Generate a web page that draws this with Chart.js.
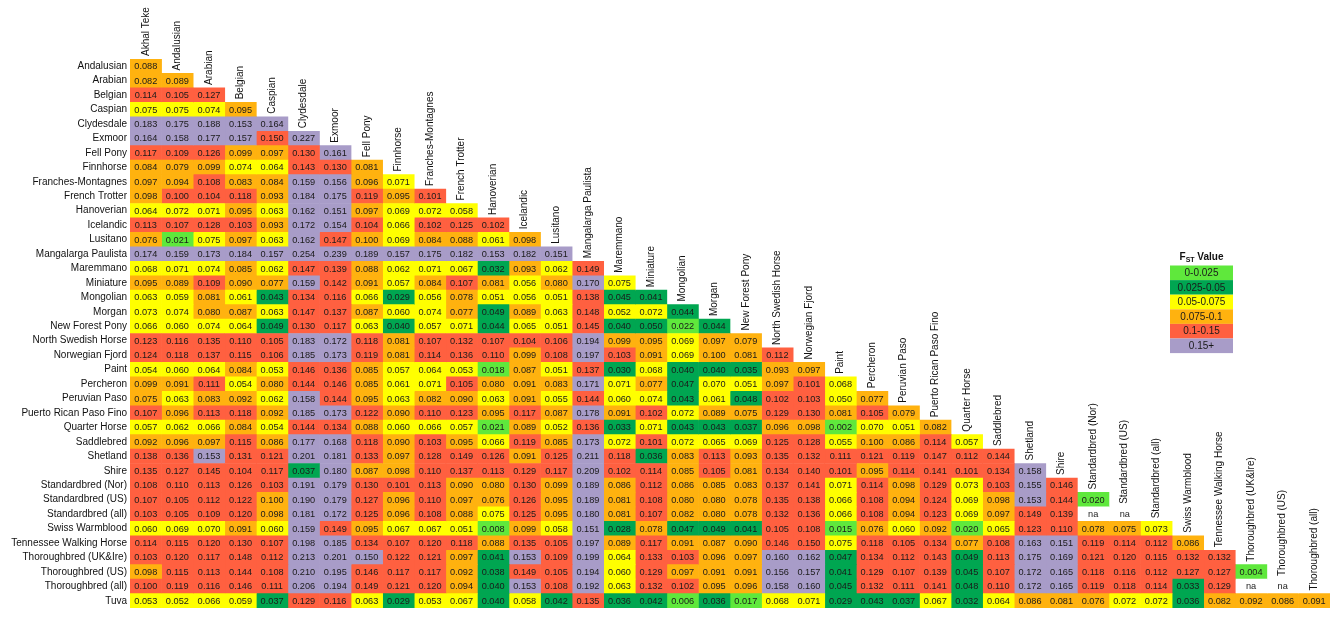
<!DOCTYPE html>
<html><head><meta charset="utf-8">
<script src="https://cdn.jsdelivr.net/npm/chart.js@4"></script>
<style>html,body{margin:0;padding:0;background:#fff;}#wrap{width:1332px;height:617px;}</style>
</head><body><div id="wrap"><canvas id="c" width="1332" height="617"></canvas></div>
<script>
const breeds = ['Andalusian','Arabian','Belgian','Caspian','Clydesdale','Exmoor','Fell Pony','Finnhorse','Franches-Montagnes','French Trotter','Hanoverian','Icelandic','Lusitano','Mangalarga Paulista','Maremmano','Miniature','Mongolian','Morgan','New Forest Pony','North Swedish Horse','Norwegian Fjord','Paint','Percheron','Peruvian Paso','Puerto Rican Paso Fino','Quarter Horse','Saddlebred','Shetland','Shire','Standardbred (Nor)','Standardbred (US)','Standardbred (all)','Swiss Warmblood','Tennessee Walking Horse','Thoroughbred (UK&Ire)','Thoroughbred (US)','Thoroughbred (all)','Tuva'];
const columnLabels = ['Akhal Teke','Andalusian','Arabian','Belgian','Caspian','Clydesdale','Exmoor','Fell Pony','Finnhorse','Franches-Montagnes','French Trotter','Hanoverian','Icelandic','Lusitano','Mangalarga Paulista','Maremmano','Miniature','Mongolian','Morgan','New Forest Pony','North Swedish Horse','Norwegian Fjord','Paint','Percheron','Peruvian Paso','Puerto Rican Paso Fino','Quarter Horse','Saddlebred','Shetland','Shire','Standardbred (Nor)','Standardbred (US)','Standardbred (all)','Swiss Warmblood','Tennessee Walking Horse','Thoroughbred (UK&Ire)','Thoroughbred (US)','Thoroughbred (all)'];

const rowAndalusian = [0.088];
const rowArabian = [0.082,0.089];
const rowBelgian = [0.114,0.105,0.127];
const rowCaspian = [0.075,0.075,0.074,0.095];
const rowClydesdale = [0.183,0.175,0.188,0.153,0.164];
const rowExmoor = [0.164,0.158,0.177,0.157,0.150,0.227];
const rowFellPony = [0.117,0.109,0.126,0.099,0.097,0.130,0.161];
const rowFinnhorse = [0.084,0.079,0.099,0.074,0.064,0.143,0.130,0.081];
const rowFranchesMontagnes = [0.097,0.094,0.108,0.083,0.084,0.159,0.156,0.096,0.071];
const rowFrenchTrotter = [0.098,0.1004,0.104,0.118,0.093,0.184,0.175,0.119,0.095,0.101];
const rowHanoverian = [0.064,0.072,0.071,0.095,0.063,0.162,0.151,0.097,0.069,0.072,0.058];
const rowIcelandic = [0.113,0.107,0.128,0.103,0.093,0.172,0.154,0.104,0.066,0.102,0.125,0.102];
const rowLusitano = [0.076,0.021,0.075,0.097,0.063,0.162,0.147,0.100,0.069,0.084,0.088,0.061,0.098];
const rowMangalarga = [0.174,0.159,0.173,0.184,0.157,0.254,0.239,0.189,0.157,0.175,0.182,0.153,0.182,0.151];
const rowMaremmano = [0.068,0.071,0.074,0.085,0.062,0.147,0.139,0.088,0.062,0.071,0.067,0.032,0.093,0.062,0.149];
const rowMiniature = [0.095,0.089,0.109,0.090,0.077,0.159,0.142,0.091,0.057,0.084,0.107,0.081,0.056,0.080,0.170,0.075];
const rowMongolian = [0.063,0.059,0.081,0.061,0.043,0.134,0.116,0.066,0.029,0.056,0.078,0.051,0.056,0.051,0.138,0.045,0.041];
const rowMorgan = [0.073,0.074,0.080,0.087,0.063,0.147,0.137,0.087,0.060,0.074,0.077,0.049,0.089,0.063,0.148,0.052,0.072,0.044];
const rowNewForestPony = [0.066,0.060,0.074,0.064,0.049,0.130,0.117,0.063,0.040,0.057,0.071,0.044,0.065,0.051,0.145,0.040,0.050,0.022,0.044];
const rowNorthSwedish = [0.123,0.116,0.135,0.110,0.105,0.183,0.172,0.118,0.081,0.107,0.132,0.107,0.104,0.106,0.194,0.099,0.095,0.069,0.097,0.079];
const rowNorwegianFjord = [0.124,0.118,0.137,0.115,0.106,0.185,0.173,0.119,0.081,0.114,0.136,0.110,0.099,0.108,0.197,0.103,0.091,0.069,0.100,0.081,0.112];
const rowPaint = [0.054,0.060,0.064,0.084,0.053,0.146,0.136,0.085,0.057,0.064,0.053,0.018,0.087,0.051,0.137,0.030,0.068,0.040,0.040,0.035,0.093,0.097];
const rowPercheron = [0.099,0.091,0.111,0.054,0.080,0.144,0.146,0.085,0.061,0.071,0.105,0.080,0.091,0.083,0.171,0.071,0.077,0.047,0.070,0.051,0.097,0.101,0.068];
const rowPeruvianPaso = [0.0752,0.063,0.083,0.092,0.062,0.158,0.144,0.095,0.063,0.082,0.090,0.063,0.091,0.055,0.144,0.060,0.074,0.043,0.061,0.048,0.102,0.103,0.0504,0.077];
const rowPuertoRican = [0.107,0.096,0.113,0.118,0.092,0.185,0.173,0.122,0.090,0.110,0.123,0.095,0.117,0.087,0.178,0.091,0.102,0.072,0.089,0.0752,0.129,0.130,0.081,0.105,0.079];
const rowQuarterHorse = [0.057,0.062,0.066,0.084,0.054,0.144,0.134,0.088,0.060,0.066,0.057,0.021,0.089,0.052,0.136,0.033,0.071,0.043,0.043,0.037,0.096,0.098,0.002,0.070,0.051,0.082];
const rowSaddlebred = [0.092,0.096,0.097,0.115,0.086,0.177,0.168,0.118,0.090,0.103,0.095,0.066,0.119,0.085,0.173,0.072,0.101,0.072,0.065,0.069,0.125,0.128,0.055,0.100,0.086,0.114,0.057];
const rowShetland = [0.138,0.136,0.153,0.131,0.121,0.201,0.181,0.133,0.097,0.128,0.149,0.126,0.091,0.125,0.211,0.118,0.036,0.083,0.113,0.093,0.135,0.132,0.111,0.121,0.119,0.147,0.112,0.144];
const rowShire = [0.135,0.127,0.145,0.104,0.117,0.037,0.180,0.087,0.098,0.110,0.137,0.113,0.129,0.117,0.209,0.102,0.114,0.085,0.105,0.081,0.134,0.140,0.101,0.095,0.114,0.141,0.101,0.134,0.158];
const rowStdNor = [0.108,0.110,0.113,0.126,0.103,0.191,0.179,0.130,0.101,0.113,0.090,0.080,0.130,0.099,0.189,0.086,0.112,0.086,0.085,0.083,0.137,0.141,0.071,0.114,0.098,0.129,0.073,0.103,0.155,0.146];
const rowStdUS = [0.107,0.105,0.112,0.122,0.100,0.190,0.179,0.127,0.096,0.110,0.097,0.076,0.126,0.095,0.189,0.081,0.108,0.080,0.080,0.078,0.135,0.138,0.066,0.108,0.094,0.124,0.069,0.098,0.153,0.144,0.020];
const rowStdAll = [0.103,0.105,0.109,0.120,0.098,0.181,0.172,0.125,0.096,0.108,0.088,0.075,0.125,0.095,0.180,0.081,0.107,0.082,0.080,0.078,0.132,0.136,0.066,0.108,0.094,0.123,0.069,0.097,0.149,0.139,null,null];
const rowSwissWarmblood = [0.060,0.069,0.070,0.091,0.060,0.159,0.149,0.095,0.067,0.067,0.051,0.008,0.099,0.058,0.151,0.028,0.078,0.047,0.049,0.041,0.105,0.108,0.015,0.076,0.060,0.092,0.020,0.065,0.123,0.110,0.078,0.0752,0.073];
const rowTennessee = [0.114,0.115,0.120,0.130,0.107,0.198,0.185,0.134,0.107,0.120,0.118,0.088,0.135,0.105,0.197,0.089,0.117,0.091,0.087,0.090,0.146,0.150,0.075,0.118,0.105,0.134,0.077,0.108,0.163,0.151,0.119,0.114,0.112,0.086];
const rowTbUKIre = [0.103,0.120,0.117,0.148,0.112,0.213,0.201,0.1504,0.122,0.121,0.097,0.041,0.153,0.109,0.199,0.064,0.133,0.103,0.096,0.097,0.160,0.162,0.047,0.134,0.112,0.143,0.049,0.113,0.175,0.169,0.121,0.120,0.115,0.132,0.132];
const rowTbUS = [0.098,0.115,0.113,0.144,0.108,0.210,0.195,0.146,0.117,0.117,0.092,0.038,0.149,0.105,0.194,0.060,0.129,0.097,0.091,0.091,0.156,0.157,0.041,0.129,0.107,0.139,0.045,0.107,0.172,0.165,0.118,0.116,0.112,0.127,0.127,0.004];
const rowTbAll = [0.1004,0.119,0.116,0.146,0.111,0.206,0.194,0.149,0.121,0.120,0.094,0.040,0.153,0.108,0.192,0.063,0.132,0.102,0.095,0.096,0.158,0.160,0.045,0.132,0.111,0.141,0.048,0.110,0.172,0.165,0.119,0.118,0.114,0.033,0.129,null,null];
const rowTuva = [0.053,0.052,0.066,0.059,0.037,0.129,0.116,0.063,0.029,0.053,0.067,0.040,0.058,0.042,0.135,0.036,0.042,0.006,0.036,0.017,0.068,0.071,0.029,0.043,0.037,0.067,0.032,0.064,0.086,0.081,0.076,0.072,0.072,0.036,0.082,0.092,0.086,0.091];

const fstRows = [rowAndalusian,rowArabian,rowBelgian,rowCaspian,rowClydesdale,rowExmoor,rowFellPony,rowFinnhorse,rowFranchesMontagnes,rowFrenchTrotter,rowHanoverian,rowIcelandic,rowLusitano,rowMangalarga,rowMaremmano,rowMiniature,rowMongolian,rowMorgan,rowNewForestPony,rowNorthSwedish,rowNorwegianFjord,rowPaint,rowPercheron,rowPeruvianPaso,rowPuertoRican,rowQuarterHorse,rowSaddlebred,rowShetland,rowShire,rowStdNor,rowStdUS,rowStdAll,rowSwissWarmblood,rowTennessee,rowTbUKIre,rowTbUS,rowTbAll,rowTuva];

const legendLabels = ['0-0.025','0.025-0.05','0.05-0.075','0.075-0.1','0.1-0.15','0.15+'];
const legendUpper = [0.025,0.05,0.075,0.1,0.15,Infinity];
const legendColors = ['#5fe83c','#00a651','#ffff00','#ffb20f','#ff6040','#a89cc8'];

const FONT = '"Liberation Sans", Arial, Helvetica, sans-serif';

function colorFor(v){
  if (v === null || v === undefined) return '#ffffff';
  for (let k = 0; k < legendUpper.length; k++) if (v <= legendUpper[k] + 1e-9) return legendColors[k];
  return legendColors[legendColors.length-1];
}
function cellValue(i, j){ return fstRows[i][j]; }

const datasets = columnLabels.map((col, j) => ({
  label: col,
  data: breeds.map((b, i) => (i >= j ? [j, j + 1] : null)),
  backgroundColor: ctx => colorFor(cellValue(ctx.dataIndex, ctx.datasetIndex)),
  borderWidth: 0,
  barPercentage: 1,
  categoryPercentage: 1,
  grouped: false
}));

const cellText = {
  id: 'cellText',
  afterDatasetsDraw(chart){
    const ctx = chart.ctx;
    ctx.save();
    ctx.font = '9.2px ' + FONT;
    ctx.textAlign = 'center';
    ctx.textBaseline = 'middle';
    ctx.fillStyle = '#1a1a1a';
    chart.data.datasets.forEach((ds, j) => {
      const meta = chart.getDatasetMeta(j);
      meta.data.forEach((el, i) => {
        if (ds.data[i] === null) return;
        const v = cellValue(i, j);
        const p = el.getCenterPoint();
        ctx.fillText(v === null ? 'na' : v.toFixed(3), p.x, p.y + 0.5);
      });
    });
    ctx.restore();
  }
};

const headers = {
  id: 'headers',
  afterDraw(chart){
    const ctx = chart.ctx;
    const xs = chart.scales.x, ys = chart.scales.y;
    const band = (chart.chartArea.bottom - chart.chartArea.top) / breeds.length;
    ctx.save();
    ctx.font = '10px ' + FONT;
    ctx.fillStyle = '#111';
    ctx.textAlign = 'left';
    ctx.textBaseline = 'middle';
    columnLabels.forEach((lab, j) => {
      const x = xs.getPixelForValue(j + 0.5);
      const yb = ys.getPixelForValue(j) - band / 2 - 3;
      ctx.save();
      ctx.translate(x, yb);
      ctx.rotate(-Math.PI / 2);
      ctx.fillText(lab, 0, 0);
      ctx.restore();
    });
    // legend
    const lx = 1170, lw = 63, lh = 14.6, ly = 265.5;
    legendLabels.forEach((lab, k) => {
      ctx.fillStyle = legendColors[k];
      ctx.fillRect(lx, ly + k * lh, lw, lh);
      ctx.fillStyle = '#1a1a1a';
      ctx.textAlign = 'center';
      ctx.font = '10px ' + FONT;
      ctx.fillText(lab, lx + lw / 2, ly + k * lh + lh / 2 + 0.5);
    });
    ctx.font = 'bold 10px ' + FONT;
    ctx.textAlign = 'left';
    ctx.fillStyle = '#111';
    const f = 'F', s = 'ST', rest = ' Value';
    const wF = ctx.measureText(f).width;
    ctx.font = 'bold 7px ' + FONT;
    const wS = ctx.measureText(s).width;
    ctx.font = 'bold 10px ' + FONT;
    const wR = ctx.measureText(rest).width;
    const tx = lx + lw / 2 - (wF + wS + wR) / 2, ty = 257;
    ctx.fillText(f, tx, ty);
    ctx.font = 'bold 7px ' + FONT;
    ctx.fillText(s, tx + wF, ty + 3);
    ctx.font = 'bold 10px ' + FONT;
    ctx.fillText(rest, tx + wF + wS, ty);
    ctx.restore();
  }
};

new Chart(document.getElementById('c'), {
  type: 'bar',
  data: { labels: breeds, datasets },
  options: {
    indexAxis: 'y',
    responsive: false,
    animation: false,
    devicePixelRatio: 1,
    layout: { padding: { top: 59, right: 2, bottom: 2, left: 0 } },
    plugins: { legend: { display: false }, tooltip: { enabled: false } },
    scales: {
      x: { type: 'linear', min: 0, max: columnLabels.length, display: false },
      y: {
        type: 'category',
        offset: true,
        grid: { display: false, drawTicks: false },
        border: { display: false },
        ticks: { color: '#111', padding: 3, autoSkip: false, font: { size: 10, family: FONT } },
        afterFit(scale){ scale.width = 130; }
      }
    }
  },
  plugins: [cellText, headers]
});
</script>
</body></html>
